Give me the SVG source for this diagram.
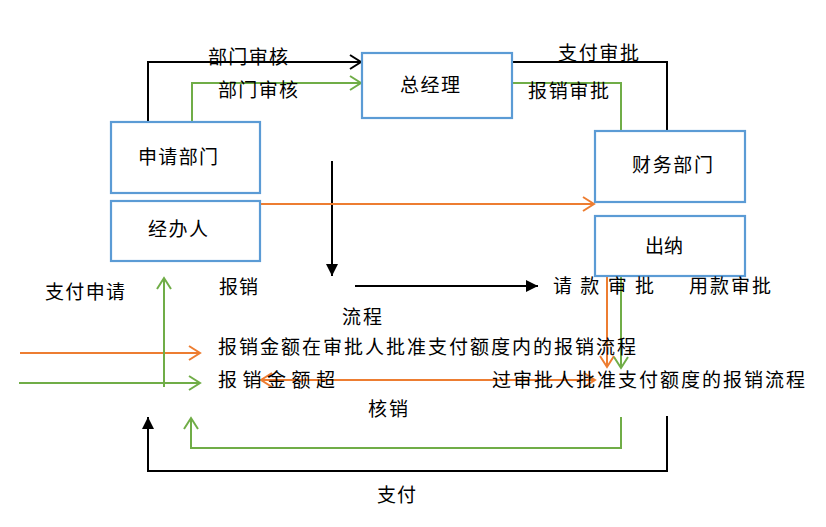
<svg xmlns="http://www.w3.org/2000/svg" width="826" height="527" viewBox="0 0 826 527">
<style>
.box{fill:#fff;stroke:#5B9BD5;stroke-width:2.2}
.t{font-family:"Noto Sans CJK SC","Noto Sans",sans-serif;font-size:19px;fill:#000}
.k{fill:none;stroke:#000;stroke-width:2}
.o{fill:none;stroke:#ED7D31;stroke-width:2}
.g{fill:none;stroke:#70AD47;stroke-width:2}
</style>
<defs>
<marker id="ck" viewBox="-12 -9 14 18" markerWidth="14" markerHeight="18" refX="0" refY="0" orient="auto-start-reverse" markerUnits="userSpaceOnUse"><path d="M-11,-7 L0,0 L-11,7" fill="none" stroke="#000" stroke-width="2"/></marker>
<marker id="co" viewBox="-12 -9 14 18" markerWidth="14" markerHeight="18" refX="0" refY="0" orient="auto-start-reverse" markerUnits="userSpaceOnUse"><path d="M-11,-7 L0,0 L-11,7" fill="none" stroke="#ED7D31" stroke-width="2"/></marker>
<marker id="cg" viewBox="-12 -9 14 18" markerWidth="14" markerHeight="18" refX="0" refY="0" orient="auto-start-reverse" markerUnits="userSpaceOnUse"><path d="M-11,-7 L0,0 L-11,7" fill="none" stroke="#70AD47" stroke-width="2"/></marker>
<marker id="fk" viewBox="-13 -7 14 14" markerWidth="14" markerHeight="14" refX="0" refY="0" orient="auto" markerUnits="userSpaceOnUse"><path d="M-12,-6 L0,0 L-12,6 Z" fill="#000"/></marker>
</defs>
<rect width="826" height="527" fill="#fff"/>
<g id="connectors">
<path class="k" d="M148,122 V62 H361" marker-end="url(#ck)"/>
<path class="g" d="M192,122 V83 H361" marker-end="url(#cg)"/>
<path class="k" d="M512,62 H667 V131"/>
<path class="g" d="M512,83 H621 V131"/>
<path class="k" d="M332,161 V276" marker-end="url(#fk)"/>
<path class="o" d="M260,204 H594" marker-end="url(#co)"/>
<path class="k" d="M355,286 H538" marker-end="url(#fk)"/>
<path class="o" d="M20,353 H200" marker-end="url(#co)"/>
<path class="g" d="M19,383 H200" marker-end="url(#cg)"/>
<path class="g" d="M164,387 V278" marker-end="url(#cg)"/>
<path class="o" d="M607,276 V367" marker-end="url(#co)"/>
<path class="g" d="M621,276 V368" marker-end="url(#cg)"/>
<path class="o" d="M261,380 H595" marker-start="url(#co)" marker-end="url(#co)"/>
<path class="g" d="M621,417 V448 H191 V418" marker-end="url(#cg)"/>
<path class="k" d="M667,416 V471 H148 V417" marker-end="url(#fk)"/>
</g>
<g id="node-shenqing"><rect class="box" x="111" y="122" width="149" height="71"/><text class="t" x="138" y="164" textLength="80">申请部门</text></g>
<g id="node-jingban"><rect class="box" x="111" y="201" width="149" height="60"/><text class="t" x="148" y="236" textLength="60">经办人</text></g>
<g id="node-zongjingli"><rect class="box" x="362" y="53" width="150" height="65"/><text class="t" x="400" y="92" textLength="60">总经理</text></g>
<g id="node-caiwu"><rect class="box" x="595" y="131" width="150" height="71"/><text class="t" x="632" y="172" textLength="81">财务部门</text></g>
<g id="node-chuna"><rect class="box" x="595" y="216" width="150" height="60"/><text class="t" x="645" y="253" textLength="38">出纳</text></g>
<g id="labels">
<text class="t" x="208" y="64" textLength="80">部门审核</text>
<text class="t" x="218" y="97" textLength="80">部门审核</text>
<text class="t" x="558" y="60" textLength="81">支付审批</text>
<text class="t" x="528" y="98" textLength="81">报销审批</text>
<text class="t" x="45" y="299" textLength="80">支付申请</text>
<text class="t" x="219" y="294" textLength="39">报销</text>
<text class="t" x="342" y="324" textLength="40">流程</text>
<text class="t" x="553" y="293" textLength="101">请 款 审 批</text>
<text class="t" x="689" y="293" textLength="82">用款审批</text>
<text class="t" x="218" y="354" textLength="418">报销金额在审批人批准支付额度内的报销流程</text>
<text class="t" x="218" y="387" textLength="117">报 销 金 额 超</text>
<text class="t" x="492" y="387" textLength="313">过审批人批准支付额度的报销流程</text>
<text class="t" x="368" y="416" textLength="40">核销</text>
<text class="t" x="377" y="502" textLength="39">支付</text>
</g>
</svg>
